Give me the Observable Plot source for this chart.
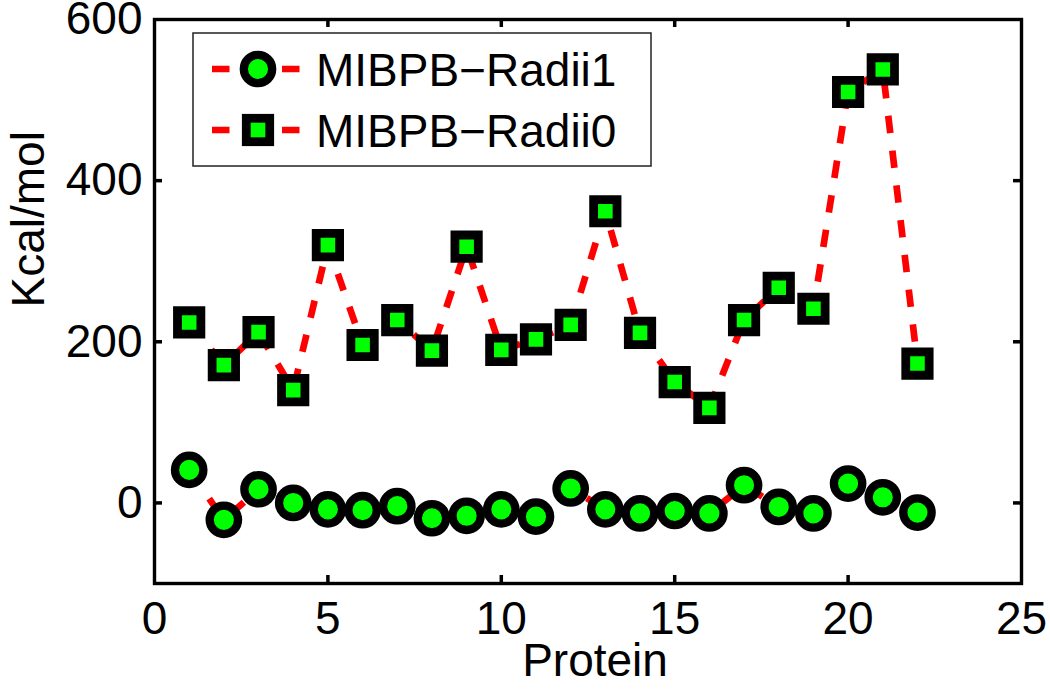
<!DOCTYPE html>
<html>
<head>
<meta charset="utf-8">
<script src="https://cdn.jsdelivr.net/npm/d3@7"></script>
<script src="https://cdn.jsdelivr.net/npm/@observablehq/plot@0.6"></script>
<style>
  html, body { margin: 0; padding: 0; background: #fff; }
  #chart { width: 1050px; height: 690px; }
</style>
</head>
<body>
<div id="chart"></div>
<script>
// ---- data ----
const protein = [1, 2, 3, 4, 5, 6, 7, 8, 9, 10, 11, 12, 13, 14, 15, 16, 17, 18, 19, 20, 21, 22];
const radii1 = [41, -21, 17, 0, -8, -9, -4, -19, -16, -8, -17, 18, -8, -13, -10, -13, 22, -5, -13, 24, 7, -12];
const radii0 = [224, 171, 212, 140, 320, 196, 227, 189, 318, 190, 203, 221, 362, 211, 150, 118, 227, 267, 241, 510, 538, 173];
const seriesNames = ["MIBPB\u2212Radii1", "MIBPB\u2212Radii0"];
const xTicks = [0, 5, 10, 15, 20, 25];
const yTicks = [0, 200, 400, 600];
const xInnerTicks = [5, 10, 15, 20];
const yInnerTicks = [0, 200, 400];
const xLabel = "Protein";
const yLabel = "Kcal/mol";

const s1 = protein.map((p, i) => ({x: p, y: radii1[i]}));
const s0 = protein.map((p, i) => ({x: p, y: radii0[i]}));

const W = 1050, H = 690;
const mL = 154, mR = 29, mT = 19, mB = 107;
const fw = W - mL - mR, fh = H - mT - mB;
const tickLen = 8;
const RED = "#ff0000", GREEN = "#00ff00";
const dash = "17.5,17.5";
const lineW = 6.7;
const circR = 14.2, circSW = 8.3;
const sqR = 13.2, sqSW = 8.8;
const FONT = "'Liberation Sans', Arial, Helvetica, sans-serif";

// legend drawn as a render-function mark inside the SVG
function legendMark(index, scales, values, dims) {
  const g = d3.create("svg:g");
  const left = dims.marginLeft, top = dims.marginTop;
  g.append("rect")
    .attr("x", left + 39).attr("y", top + 14)
    .attr("width", 458).attr("height", 133)
    .attr("fill", "white").attr("stroke", "#222").attr("stroke-width", 1.5);
  const rows = [top + 50, top + 111];
  seriesNames.forEach((name, i) => {
    const cy = rows[i];
    g.append("line")
      .attr("x1", left + 58).attr("x2", left + 147)
      .attr("y1", cy).attr("y2", cy)
      .attr("stroke", RED).attr("stroke-width", lineW)
      .attr("stroke-dasharray", dash);
    const mx = left + 104;
    if (i === 0) {
      g.append("circle").attr("cx", mx).attr("cy", cy).attr("r", circR)
        .attr("fill", GREEN).attr("stroke", "black").attr("stroke-width", circSW);
    } else {
      const side = sqR * Math.sqrt(Math.PI);
      g.append("rect").attr("x", mx - side / 2).attr("y", cy - side / 2)
        .attr("width", side).attr("height", side)
        .attr("fill", GREEN).attr("stroke", "black").attr("stroke-width", sqSW);
    }
    g.append("text")
      .attr("x", left + 162).attr("y", cy + 17)
      .attr("text-anchor", "start")
      .attr("font-size", 46).attr("font-family", FONT)
      .attr("fill", "black")
      .text(name);
  });
  return g.node();
}

const chart = Plot.plot({
  width: W,
  height: H,
  marginLeft: mL,
  marginRight: mR,
  marginTop: mT,
  marginBottom: mB,
  style: {fontFamily: FONT, fontSize: "46px", background: "white", color: "black"},
  x: {domain: [0, 25], ticks: xTicks, tickSize: 0, tickPadding: 18, label: null},
  y: {domain: [-100, 600], ticks: yTicks, tickSize: 0, tickPadding: 12, label: null},
  marks: [
    // inward ticks on all four sides
    Plot.ruleX(xInnerTicks, {x: d => d, insetTop: fh - tickLen, stroke: "black", strokeWidth: 3.5}),
    Plot.ruleX(xInnerTicks, {x: d => d, insetBottom: fh - tickLen, stroke: "black", strokeWidth: 3.5}),
    Plot.ruleY(yInnerTicks, {y: d => d, insetRight: fw - tickLen, stroke: "black", strokeWidth: 3.5}),
    Plot.ruleY(yInnerTicks, {y: d => d, insetLeft: fw - tickLen, stroke: "black", strokeWidth: 3.5}),
    // series 1
    Plot.line(s1, {x: "x", y: "y", stroke: RED, strokeWidth: lineW, strokeDasharray: dash, strokeLinecap: "butt"}),
    Plot.dot(s1, {x: "x", y: "y", r: circR, fill: GREEN, stroke: "black", strokeWidth: circSW}),
    // series 0
    Plot.line(s0, {x: "x", y: "y", stroke: RED, strokeWidth: lineW, strokeDasharray: dash, strokeLinecap: "butt"}),
    Plot.dot(s0, {x: "x", y: "y", r: sqR, symbol: "square", fill: GREEN, stroke: "black", strokeWidth: sqSW}),
    // frame
    Plot.frame({stroke: "black", strokeWidth: 3.4}),
    // axis titles
    Plot.text([xLabel], {frameAnchor: "bottom", lineAnchor: "bottom", dy: 92, dx: 7, fontSize: 46, fill: "black"}),
    Plot.text([yLabel], {frameAnchor: "left", rotate: -90, lineAnchor: "bottom", dx: -111, dy: 6, fontSize: 46, fill: "black"}),
    // legend
    legendMark
  ]
});

document.getElementById("chart").appendChild(chart);
</script>
</body>
</html>
